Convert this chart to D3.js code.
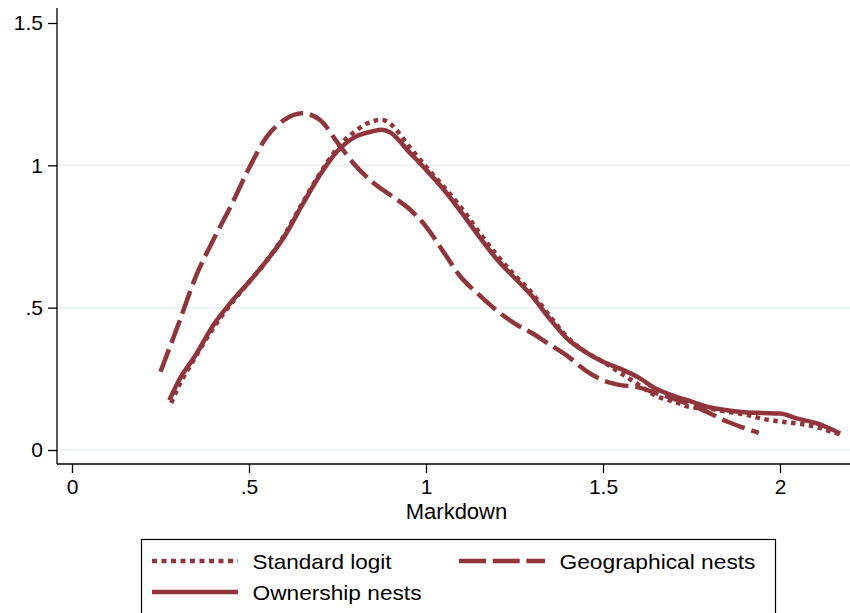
<!DOCTYPE html>
<html>
<head>
<meta charset="utf-8">
<script src="https://cdn.jsdelivr.net/npm/d3@7"></script>
<style>
  html, body { margin: 0; padding: 0; background: #fff; }
  svg { display: block; font-family: "Liberation Sans", Arial, sans-serif; }
</style>
</head>
<body>
<svg id="chart" width="850" height="613"></svg>
<script>
// ---- data ----
const seriesNames = ["Standard logit", "Geographical nests", "Ownership nests"];

const standardX = [0.28,0.30,0.35,0.40,0.45,0.50,0.55,0.60,0.65,0.70,0.75,0.80,0.85,0.875,0.90,0.95,1.00,1.05,1.10,1.15,1.20,1.25,1.30,1.35,1.40,1.45,1.50,1.55,1.60,1.65,1.70,1.75,1.80,1.85,1.90,1.95,2.00,2.05,2.10,2.15,2.17];
const standardY = [0.165,0.22,0.33,0.43,0.515,0.59,0.665,0.755,0.865,0.97,1.06,1.12,1.155,1.16,1.145,1.07,0.995,0.925,0.85,0.765,0.685,0.615,0.55,0.47,0.395,0.345,0.31,0.27,0.23,0.19,0.17,0.15,0.145,0.135,0.125,0.11,0.10,0.093,0.082,0.062,0.055];

const geoX = [0.25,0.30,0.35,0.40,0.45,0.50,0.55,0.60,0.65,0.70,0.75,0.80,0.85,0.90,0.95,1.00,1.05,1.10,1.15,1.20,1.25,1.30,1.35,1.40,1.45,1.50,1.55,1.60,1.65,1.70,1.75,1.80,1.85,1.90,1.94];
const geoY = [0.275,0.44,0.61,0.74,0.86,0.99,1.10,1.16,1.183,1.16,1.08,1.00,0.94,0.895,0.85,0.785,0.695,0.605,0.545,0.49,0.445,0.41,0.37,0.33,0.28,0.245,0.228,0.22,0.20,0.18,0.158,0.13,0.10,0.077,0.06];

const ownX = [0.275,0.30,0.35,0.40,0.45,0.50,0.55,0.60,0.65,0.70,0.75,0.80,0.85,0.875,0.90,0.95,1.00,1.05,1.10,1.15,1.20,1.25,1.30,1.35,1.40,1.45,1.50,1.55,1.60,1.65,1.70,1.75,1.80,1.85,1.90,1.95,2.00,2.05,2.10,2.15,2.17];
const ownY = [0.175,0.24,0.335,0.44,0.52,0.59,0.665,0.75,0.86,0.965,1.05,1.10,1.12,1.125,1.115,1.05,0.985,0.915,0.835,0.75,0.67,0.605,0.54,0.46,0.39,0.345,0.31,0.285,0.255,0.215,0.19,0.17,0.15,0.14,0.133,0.13,0.128,0.11,0.095,0.07,0.058];

const xTicks = [0, 0.5, 1, 1.5, 2];
const xTickLabels = ["0", ".5", "1", "1.5", "2"];
const yTicks = [0, 0.5, 1, 1.5];
const yTickLabels = ["0", ".5", "1", "1.5"];
const gridValues = [0, 0.5, 1];
const xTitle = "Markdown";

// ---- layout ----
const color = "#90353b";
const svg = d3.select("#chart");
const x = d3.scaleLinear().domain([0, 2]).range([72, 780]);
const y = d3.scaleLinear().domain([0, 1.5]).range([450, 23]);
const plotLeft = 57, plotRight = 850, plotTop = 8, plotBottom = 464;

// gridlines
svg.append("g").selectAll("line").data(gridValues).join("line")
  .attr("x1", plotLeft).attr("x2", plotRight)
  .attr("y1", d => y(d)).attr("y2", d => y(d))
  .attr("stroke", "#eaf0f2").attr("stroke-width", 1.5);

// axes
const yAxis = d3.axisLeft(y).tickValues(yTicks).tickFormat((d, i) => yTickLabels[i]).tickSize(9).tickPadding(5);
const gy = svg.append("g").attr("transform", `translate(${plotLeft},0)`).call(yAxis);
gy.select(".domain").attr("d", `M0,${plotTop}V${plotBottom}`).attr("stroke", "#000").attr("stroke-width", 1.3);

const xAxis = d3.axisBottom(x).tickValues(xTicks).tickFormat((d, i) => xTickLabels[i]).tickSize(9).tickPadding(6);
const gx = svg.append("g").attr("transform", `translate(0,${plotBottom})`).call(xAxis);
gx.select(".domain").attr("d", `M${plotLeft},0H${plotRight}`).attr("stroke", "#000").attr("stroke-width", 1.3);

[gx, gy].forEach(g => {
  g.selectAll(".tick line").attr("stroke", "#000").attr("stroke-width", 1.3);
  g.selectAll(".tick text").attr("font-size", 21).attr("fill", "#000")
    .attr("font-family", "'Liberation Sans', Arial, sans-serif");
});

svg.append("text").attr("x", 456.5).attr("y", 519).attr("text-anchor", "middle")
  .attr("font-size", 22).attr("fill", "#000").text(xTitle);

// lines
const line = d3.line().x(d => x(d[0])).y(d => y(d[1])).curve(d3.curveMonotoneX);
const zip = (a, b) => a.map((v, i) => [v, b[i]]);
const styles = [
  { data: zip(standardX, standardY), dash: "4.5 4.5" },
  { data: zip(geoX, geoY), dash: "24 7" },
  { data: zip(ownX, ownY), dash: null }
];
const plotG = svg.append("g");
[styles[1], styles[2], styles[0]].forEach(s => {
  plotG.append("path").attr("d", line(s.data))
    .attr("fill", "none").attr("stroke", color).attr("stroke-width", 4.5)
    .attr("stroke-dasharray", s.dash);
});

// legend
const lg = svg.append("g");
lg.append("rect").attr("x", 141.5).attr("y", 539.5).attr("width", 634).attr("height", 80)
  .attr("fill", "#fff").attr("stroke", "#000").attr("stroke-width", 1.2);
const legendItems = [
  { name: seriesNames[0], dash: "5 4.5", lx: 152, ly: 561, w: 139 },
  { name: seriesNames[1], dash: "27 6.7", lx: 459, ly: 561, w: 196 },
  { name: seriesNames[2], dash: null, lx: 152, ly: 592, w: 169 }
];
legendItems.forEach(it => {
  lg.append("line").attr("x1", it.lx).attr("x2", it.lx + 86)
    .attr("y1", it.ly).attr("y2", it.ly)
    .attr("stroke", color).attr("stroke-width", 4.5).attr("stroke-dasharray", it.dash);
  lg.append("text").attr("x", it.lx + 100.5).attr("y", it.ly + 8)
    .attr("font-size", 21).attr("fill", "#000")
    .attr("textLength", it.w).attr("lengthAdjust", "spacingAndGlyphs")
    .text(it.name);
});
</script>
</body>
</html>
